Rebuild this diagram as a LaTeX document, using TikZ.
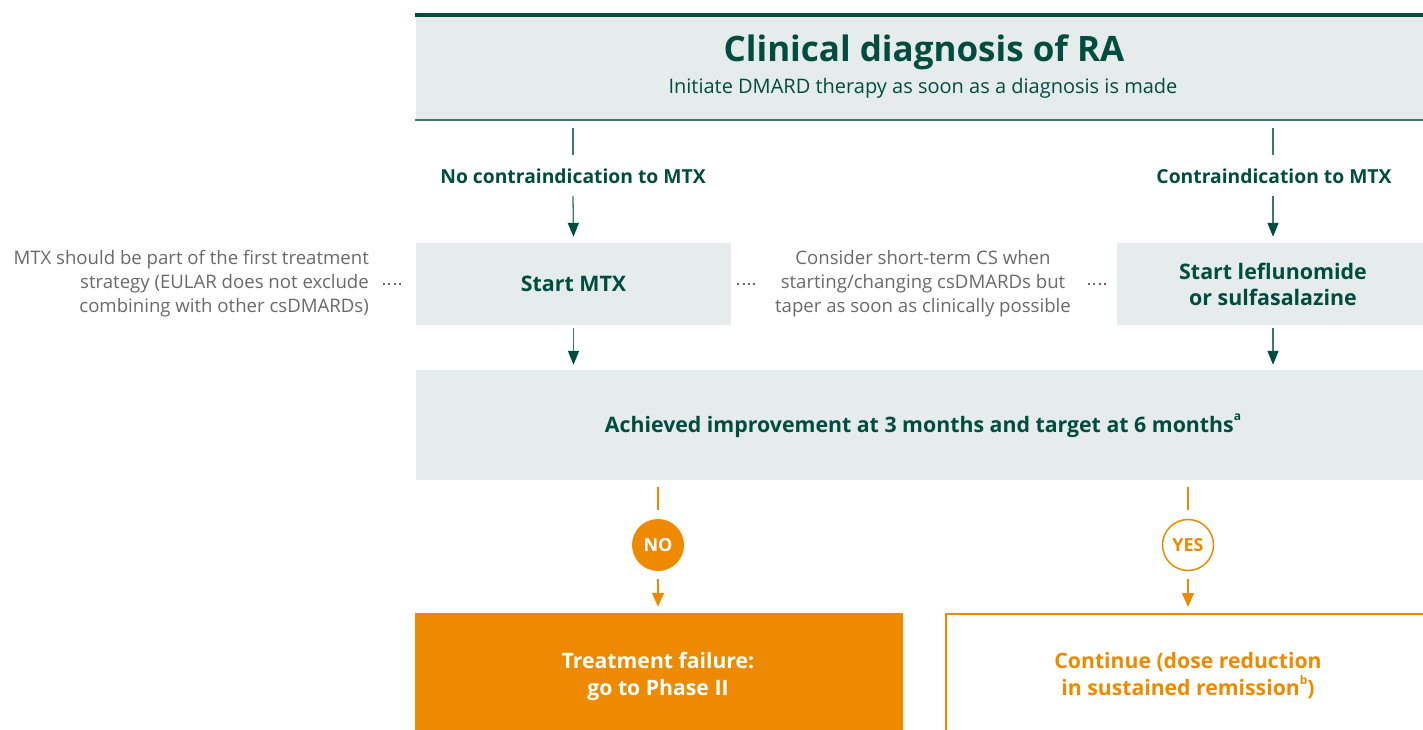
\documentclass[tikz,border=0pt]{standalone}
\usepackage{fontspec}
\setmainfont{Open Sans}
\usetikzlibrary{arrows.meta,calc}
\definecolor{dgreen}{RGB}{0,77,64}
\definecolor{tealline}{RGB}{60,118,110}
\definecolor{lightfill}{RGB}{230,236,235}
\definecolor{orng}{RGB}{238,138,0}
\definecolor{gtext}{RGB}{105,105,105}
\newcommand{\supx}[1]{\raisebox{0.55em}{\fontsize{12}{12}\selectfont\bfseries #1}}
\tikzset{
  panel/.style={fill=lightfill, draw=none, inner sep=0pt},
  lbl/.style={font=\fontsize{19.3}{23}\selectfont\bfseries, text=dgreen, inner sep=0pt},
  boxtext/.style={font=\fontsize{21.4}{26}\selectfont\bfseries, text=dgreen, align=center},
  note/.style={font=\fontsize{18.6}{24}\selectfont, text=gtext, inner sep=0pt},
  gline/.style={draw=tealline, line width=1.3pt},
  garrow/.style={draw=tealline, line width=1.3pt, -{Triangle[width=11pt,length=14pt,color=dgreen]}},
  oline/.style={draw=orng, line width=1.3pt},
  oarrow/.style={draw=orng, line width=1.3pt, -{Triangle[width=12pt,length=14pt]}},
  dotline/.style={draw=gtext, line width=2pt, dash pattern=on 2pt off 3.4pt},
}
\begin{document}
\begin{tikzpicture}[x=1pt,y=-1pt]
\useasboundingbox (0,0) rectangle (1423,729);
\clip (0,0) rectangle (1423,729);
% top panel
\node[panel, minimum width=1008pt, minimum height=105pt] (top) at (919.5,67.5) {};
\draw[draw=dgreen, line width=4pt] (top.north west) -- (top.north east);
\draw[draw=tealline, line width=1.5pt] (top.south west) -- (top.south east);
\node[font=\fontsize{35}{40}\selectfont\bfseries, text=dgreen, inner sep=0pt] (title) at (924,52) {Clinical diagnosis of RA};
\node[font=\fontsize{20}{24}\selectfont, text=dgreen, inner sep=0pt] (sub) at (923,88) {Initiate DMARD therapy as soon as a diagnosis is made};
% labels
\node[lbl] (lblL) at (573,176) {No contraindication to MTX};
\node[lbl] (lblR) at (1274,176) {Contraindication to MTX};
\draw[gline] ([yshift=-8pt]top.south -| lblL) -- ([yshift=21pt]lblL.center);
\draw[gline] ([yshift=-8pt]top.south -| 1273,0) -- ([yshift=21pt]lblR.center -| 1273,0);
% boxes
\node[panel, minimum width=315pt, minimum height=82pt, boxtext] (sMTX) at (573.5,284) {Start MTX};
\node[panel, minimum width=306pt, minimum height=82pt] (sLEF) at (1270,284) {};
\node[boxtext, inner sep=0pt] (sLEFt) at (1273,284) {Start leflunomide\\or sulfasalazine};
\draw[garrow] ([yshift=-20pt]lblL.center) -- ([yshift=6pt]sMTX.north);
\draw[garrow] ([yshift=-20pt]lblR.center -| sLEFt) -- ([yshift=6pt]sLEF.north -| sLEFt);
% notes
\node[note, align=right, anchor=east] (noteL) at (369,284) {MTX should be part of the first treatment\\strategy (EULAR does not exclude\\combining with other csDMARDs)};
\node[note, align=center] (noteM) at (923,284) {Consider short-term CS when\\starting/changing csDMARDs but\\taper as soon as clinically possible};
\draw[dotline] ([xshift=14pt]noteL.east) -- ([xshift=-15pt]sMTX.west);
\draw[dotline] ([xshift=6pt]sMTX.east) -- ([xshift=26pt]sMTX.east);
\draw[dotline] ([xshift=-29pt]sLEF.west) -- ([xshift=-8pt]sLEF.west);
% achieved panel
\node[panel, minimum width=1008pt, minimum height=110pt] (ach) at (919.5,425) {};
\node[font=\fontsize{21.3}{24}\selectfont\bfseries, text=dgreen, inner sep=0pt] (achT) at (923,426) {Achieved improvement at 3 months and target at 6 months\supx{a}};
\draw[garrow] ([yshift=-3pt]sMTX.south) -- ([yshift=5pt]ach.north -| sMTX);
\draw[garrow] ([yshift=-3pt]sLEF.south -| sLEFt) -- ([yshift=5pt]ach.north -| sLEFt);
% NO / YES
\node[circle, fill=orng, minimum size=52pt, inner sep=0pt, text=white, font=\fontsize{18}{20}\selectfont\bfseries] (no) at (658,545) {NO};
\node[circle, draw=orng, line width=1.5pt, fill=white, minimum size=51pt, inner sep=0pt, text=orng, font=\fontsize{18}{20}\selectfont\bfseries] (yes) at (1188,545) {YES};
\draw[oline] ([yshift=-7pt]ach.south -| no) -- ([yshift=9pt]no.north);
\draw[oline] ([yshift=-7pt]ach.south -| yes) -- ([yshift=9pt]yes.north);
% bottom boxes
\node[fill=orng, minimum width=488pt, minimum height=140pt, inner sep=0pt] (fail) at (659,683) {};
\node[font=\fontsize{21.2}{27}\selectfont\bfseries, text=white, align=center, inner sep=0pt] (failT) at (658,676) {Treatment failure:\\go to Phase II};
\node[draw=orng, line width=2pt, fill=white, minimum width=500pt, minimum height=140pt, inner sep=0pt] (cont) at (1196,684) {};
\node[font=\fontsize{21.2}{27}\selectfont\bfseries, text=orng, align=center, inner sep=0pt] (contT) at (1188,676) {Continue (dose reduction\\in sustained remission\supx{b})};
\draw[oarrow] ([yshift=-8pt]no.south) -- ([yshift=6pt]fail.north -| no);
\draw[oarrow] ([yshift=-8pt]yes.south) -- ([yshift=6pt]cont.north -| yes);
\end{tikzpicture}
\end{document}
